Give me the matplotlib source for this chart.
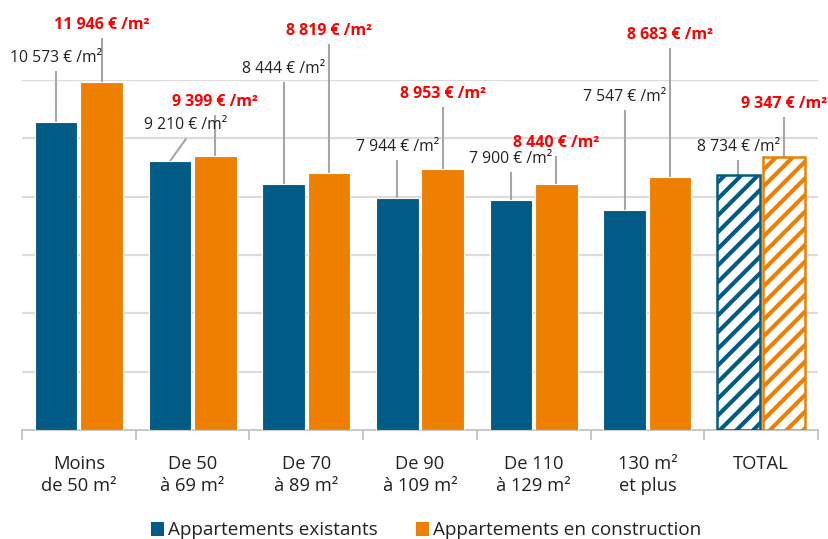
"""Prix moyen au m2 des appartements par surface : existants vs en construction."""

import matplotlib

matplotlib.use("Agg")
import matplotlib.pyplot as plt
from matplotlib.patches import Patch

plt.rcParams["font.family"] = ["Open Sans", "DejaVu Sans"]
plt.rcParams["hatch.linewidth"] = 3.0

categories = ["Moins\nde 50 m²", "De 50\nà 69 m²", "De 70\nà 89 m²", "De 90\nà 109 m²",
              "De 110\nà 129 m²", "130 m²\net plus", "TOTAL"]
existing = [10573, 9210, 8444, 7944, 7900, 7547, 8734]
construction = [11946, 9399, 8819, 8953, 8440, 8683, 9347]
series_names = ["Appartements existants", "Appartements en construction"]

# label placement (layout only): height of label centre, x shift of label
label_y_existing = [12760, 10470, 12385, 9716, 9306, 11427, 9716]
label_y_construction = [13890, 11255, 13685, 11530, 9853, 13548, 11187]
label_dx_existing = [0, 0.14, 0, 0, 0, 0, 0]

BLUE = "#005b87"
ORANGE = "#ef7f00"
RED = "#ff0000"
GREY_LINE = "#a6a6a6"


def fmt(v):
    return f"{v:,}".replace(",", " ") + " € /m²"


fig = plt.figure(figsize=(8.29, 5.39), dpi=100)
ax = fig.add_axes([22 / 829, 1 - 430 / 539, (818 - 22) / 829, 350 / 539])

width = 0.375
offset = 0.2
n = len(categories)
for i in range(n):
    total = categories[i] == "TOTAL"
    for val, col, dx in ((existing[i], BLUE, -offset), (construction[i], ORANGE, offset)):
        if total:
            ax.bar(i + dx, val, width, facecolor="white", edgecolor=col,
                   hatch="//", linewidth=1.8, zorder=3)
        else:
            ax.bar(i + dx, val, width, color=col, edgecolor="white",
                   linewidth=0.8, zorder=3)

    # leader lines + value labels
    x_e = i - offset
    lx = x_e + label_dx_existing[i]
    ax.plot([x_e, lx], [existing[i], label_y_existing[i] - 500],
            color=GREY_LINE, lw=1.5, zorder=2, clip_on=False)
    ax.text(lx, label_y_existing[i], fmt(existing[i]), ha="center", va="center",
            fontsize=11.3, color="#222222", clip_on=False)
    x_c = i + offset
    ax.plot([x_c, x_c], [construction[i], label_y_construction[i] - 500],
            color=GREY_LINE, lw=1.5, zorder=2, clip_on=False)
    ax.text(x_c, label_y_construction[i], fmt(construction[i]), ha="center",
            va="center", fontsize=11.5, color=RED, fontweight="bold", clip_on=False)

ax.set_xlim(-0.5, n - 0.5)
ax.set_ylim(0, 12000)
ax.set_yticks(range(2000, 12001, 2000))
ax.yaxis.grid(True, color="#dcdcdc", lw=1.6, zorder=0)
ax.set_axisbelow(True)
ax.tick_params(axis="y", left=False, labelleft=False)

ax.set_xticks(range(n))
ax.set_xticklabels(categories, fontsize=13.2, color="#222222", linespacing=1.3)
ax.tick_params(axis="x", which="major", length=0, pad=18)
ax.set_xticks([i - 0.5 for i in range(n + 1)], minor=True)
ax.tick_params(axis="x", which="minor", length=7, width=1.2, color="#bfbfbf")

for side in ("top", "left", "right"):
    ax.spines[side].set_visible(False)
ax.spines["bottom"].set_color("#bfbfbf")
ax.spines["bottom"].set_linewidth(1.2)

handles = [Patch(facecolor=BLUE), Patch(facecolor=ORANGE)]
fig.legend(handles, series_names, loc="center", bbox_to_anchor=(426 / 829, 0.016),
           ncol=2, frameon=False, fontsize=13.6, handlelength=0.72, handleheight=0.72,
           handletextpad=0.2, columnspacing=2.0, labelcolor="#222222")

fig.savefig("out.png", dpi=100)
